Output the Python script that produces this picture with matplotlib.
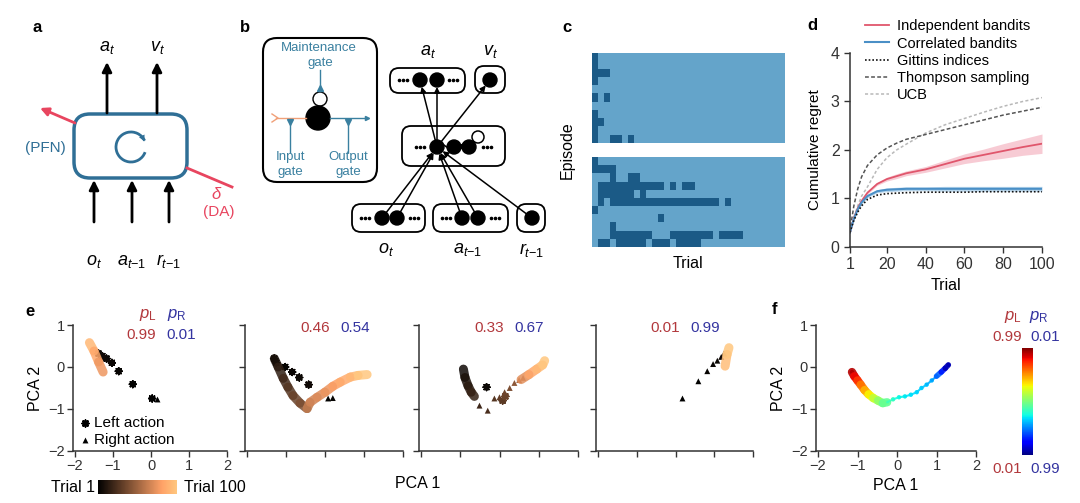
import numpy as np
import matplotlib; matplotlib.use("Agg")
import matplotlib.pyplot as plt
from matplotlib.patches import FancyBboxPatch, FancyArrowPatch, Circle, Arc
from matplotlib.collections import LineCollection
from matplotlib.colors import ListedColormap, Normalize
import matplotlib.colorbar as mcb

plt.rcParams.update({"font.family": "Liberation Sans", "font.size": 11,
    "mathtext.fontset": "custom", "mathtext.rm": "Liberation Sans",
    "mathtext.it": "Liberation Sans:italic", "axes.linewidth": 1.1,
    "axes.edgecolor": "#333333", "xtick.color": "#333333", "ytick.color": "#333333",
    "axes.spines.top": False, "axes.spines.right": False})

# ---- data ----
# panel c: dark cells per episode row as (start, stop) column runs
c_ncol = 32
c_top_runs = [[(0, 1)], [(0, 1)], [(0, 3)], [(0, 1)], [], [(0, 1), (2, 3)], [],
              [(0, 1)], [(0, 2)], [(0, 1)], [(0, 1), (3, 5), (6, 7)]]
c_bot_runs = [[(0, 1)], [(0, 4)], [(3, 4), (6, 8)], [(1, 12), (13, 14), (15, 17)],
              [(1, 7), (8, 9)], [(1, 2), (3, 21), (22, 23)], [(0, 1)], [(11, 12)],
              [(3, 4)], [(3, 10), (13, 17), (17, 20), (21, 25)],
              [(1, 3), (4, 9), (10, 13), (14, 18)]]

# panel d: cumulative regret
d_trial = [1, 2, 3, 5, 7, 10, 15, 20, 25, 30, 40, 50, 60, 70, 80, 90, 100]
d_indep = [0.3, 0.45, 0.6, 0.8, 0.95, 1.12, 1.3, 1.4, 1.46, 1.52, 1.6, 1.71, 1.82, 1.9, 1.98, 2.06, 2.13]
d_indep_err = [0.01, 0.02, 0.02, 0.02, 0.03, 0.03, 0.03, 0.04, 0.05, 0.05, 0.06, 0.08, 0.1, 0.12, 0.15, 0.17, 0.2]
d_corr = [0.3, 0.45, 0.58, 0.78, 0.92, 1.05, 1.15, 1.18, 1.19, 1.2, 1.2, 1.2, 1.2, 1.2, 1.2, 1.2, 1.2]
d_corr_err = [0.01, 0.02, 0.02, 0.02, 0.03, 0.03, 0.03, 0.04, 0.04, 0.04, 0.04, 0.05, 0.05, 0.05, 0.05, 0.05, 0.05]
d_gittins = [0.3, 0.43, 0.55, 0.72, 0.85, 0.98, 1.07, 1.1, 1.11, 1.12, 1.13, 1.13, 1.13, 1.14, 1.14, 1.14, 1.14]
d_thompson = [0.3, 0.6, 0.85, 1.2, 1.45, 1.68, 1.9, 2.04, 2.14, 2.22, 2.32, 2.42, 2.52, 2.62, 2.72, 2.8, 2.88]
d_ucb = [0.3, 0.45, 0.6, 0.85, 1.05, 1.24, 1.6, 1.84, 2.0, 2.12, 2.35, 2.52, 2.65, 2.78, 2.9, 3.0, 3.08]

# panel e: hidden-state trajectories (PCA 1, PCA 2, trial)
e_pL = ["0.99", "0.46", "0.33", "0.01"]
e_pR = ["0.01", "0.54", "0.67", "0.99"]
e_bands = [
    [([-1.62, -1.5, -1.38, -1.26], [0.58, 0.38, 0.12, -0.12], [100, 92, 84, 76])],
    [([-1.3, -1.2, -1.07, -0.95, -0.82, -0.64, -0.46, -0.38, -0.2, 0.0, 0.2, 0.39, 0.65, 0.85, 1.08],
      [0.2, 0.0, -0.27, -0.48, -0.68, -0.86, -0.99, -0.84, -0.72, -0.6, -0.46, -0.36, -0.24, -0.2, -0.18],
      [5, 10, 16, 22, 28, 34, 40, 62, 66, 70, 75, 80, 86, 92, 100])],
    [([-0.92, -0.88, -0.8, -0.72, -0.64], [-0.05, -0.25, -0.45, -0.6, -0.7], [3, 6, 10, 14, 18]),
     ([0.55, 0.75, 0.95, 1.1, 1.15], [-0.3, -0.18, -0.05, 0.05, 0.15], [60, 72, 84, 94, 100])],
    [([1.28, 1.33, 1.38], [0.02, 0.3, 0.46], [90, 95, 100])],
]
e_left = [([0.03, -0.48, -0.85, -1.03, -1.17, -1.28, -1.38], [-0.75, -0.41, -0.1, 0.1, 0.2, 0.26, 0.32], [1, 2, 3, 4, 5, 6, 7]),
          ([-1.3, -1.25, -1.02, -0.84, -0.66, -0.42], [0.2, 0.1, 0.0, -0.12, -0.25, -0.42], [1, 2, 3, 4, 5, 6]),
          ([-0.33, 0.08, 0.15], [-0.48, -0.8, -0.7], [5, 30, 35]),
          ([], [], [])]
e_right = [([0.16], [-0.75], [1]),
           ([0.08, 0.2], [-0.75, -0.74], [2, 3]),
           ([-0.51, -0.3, -0.13, 0.0, 0.13, 0.26, 0.38, 0.5, 0.6],
            [-0.92, -1.04, -0.75, -0.72, -0.6, -0.5, -0.38, -0.31, -0.26],
            [20, 24, 28, 32, 36, 40, 45, 50, 55]),
           ([0.18, 0.59, 0.82, 0.97, 1.08, 1.18, 1.25], [-0.75, -0.34, -0.1, 0.07, 0.15, 0.24, 0.32], [1, 2, 3, 4, 5, 6, 7])]

# panel f: final hidden states coloured by pL
f_x = [-1.14, -1.08, -1.0, -0.92, -0.82, -0.72, -0.6, -0.48, -0.36, -0.25, -0.1, 0.05, 0.2, 0.35, 0.5, 0.62, 0.75, 0.88, 1.0, 1.12, 1.22, 1.3]
f_y = [-0.12, -0.22, -0.32, -0.42, -0.55, -0.65, -0.74, -0.8, -0.86, -0.84, -0.77, -0.72, -0.7, -0.66, -0.6, -0.5, -0.42, -0.32, -0.22, -0.12, -0.03, 0.05]
f_pL = [0.99, 0.95, 0.9, 0.85, 0.78, 0.72, 0.65, 0.58, 0.52, 0.47, 0.42, 0.38, 0.36, 0.35, 0.34, 0.33, 0.32, 0.3, 0.28, 0.22, 0.15, 0.05]

RED_T = "#b2383c"; BLUE_T = "#3434a0"
BLUE_A = "#2f6f96"; RED_A = "#e8455f"; TEAL = "#3a80a0"

W, H = 1080, 503
fig = plt.figure(figsize=(W/100, H/100), dpi=100)
def pax(l, t, r, b):
    a = fig.add_axes([l/W, 1-b/H, (r-l)/W, (b-t)/H])
    a.set_facecolor("none")
    return a
def T(x, y, s, **kw):
    kw.setdefault("ha", "center"); kw.setdefault("va", "center")
    fig.text(x/W, 1-y/H, s, **kw)

cv = pax(0, 0, W, H); cv.set_xlim(0, W); cv.set_ylim(H, 0); cv.axis("off")
def arr(x0, y0, x1, y1, color="k", lw=2.0, ms=14, sa=0, sb=0):
    cv.add_patch(FancyArrowPatch((x0, y0), (x1, y1), arrowstyle="-|>", mutation_scale=ms,
                                 color=color, lw=lw, shrinkA=sa, shrinkB=sb))
def rbox(x0, y0, x1, y1, rr, ec="k", lw=1.3):
    cv.add_patch(FancyBboxPatch((x0, y0), x1-x0, y1-y0, boxstyle=f"round,pad=0,rounding_size={rr}",
                                fc="none", ec=ec, lw=lw))
def dots(x, y):
    cv.plot([x-4, x, x+4], [y, y, y], "o", color="k", ms=1.6)

# panel labels
for s, x, y in [("a", 37, 27), ("b", 245, 27), ("c", 567, 27), ("d", 812, 25), ("e", 30, 311), ("f", 775, 309)]:
    T(x, y, s, fontsize=12, fontweight="bold")

# ---- panel a ----
rbox(74, 114, 187, 178, 16, ec=BLUE_A, lw=2.5)
for x in [107, 157]:
    arr(x, 113, x, 62)
for x in [94, 132, 169]:
    arr(x, 222, x, 180)
arr(75, 123, 40, 108, color=RED_A, lw=2, ms=12)
cv.plot([187, 232], [168, 187], color=RED_A, lw=2)
cv.add_patch(Arc((131, 147), 30, 30, theta1=20, theta2=335, color=BLUE_A, lw=2))
th = np.deg2rad([320, 348])
cv.add_patch(FancyArrowPatch((131+15*np.cos(th[0]), 147+15*np.sin(th[0])),
                             (131+15*np.cos(th[1]), 147+15*np.sin(th[1])),
                             arrowstyle="-|>", mutation_scale=11, color=BLUE_A, lw=0))
T(107, 48, r"$a_t$", fontsize=13); T(157, 48, r"$v_t$", fontsize=13)
T(94, 261, r"$o_t$", fontsize=13); T(132, 261, r"$a_{t{-}1}$", fontsize=13); T(169, 261, r"$r_{t{-}1}$", fontsize=13)
T(45, 148, "(PFN)", fontsize=11, color=BLUE_A)
T(217, 194, r"$\delta$", fontsize=12, color=RED_A)
T(219, 212, "(DA)", fontsize=11, color=RED_A)

# ---- panel b ----
rbox(263, 38, 377, 182, 14, lw=1.5)
T(319, 48, "Maintenance", fontsize=9.5, color=TEAL)
T(320, 63, "gate", fontsize=9.5, color=TEAL)
cv.plot([320, 320], [70, 88], color=TEAL, lw=1)
cv.plot([320], [88], marker="^", color=TEAL, ms=5)
cv.add_patch(Circle((320, 99), 7, fc="none", ec="k", lw=1))
cv.add_patch(Circle((318, 118), 12, color="k"))
cv.plot([276, 306], [118, 118], color="#f0a078", lw=1)
cv.plot([272, 278, 272], [114, 118, 122], color="#f0a078", lw=1)
cv.plot([330, 367], [118, 118], color=TEAL, lw=1)
cv.plot([367], [118], marker=">", color=TEAL, ms=3)
for x, lab in [(290, "Input"), (348, "Output")]:
    cv.plot([x, x], [121, 152], color=TEAL, lw=1)
    cv.plot([x], [122], marker="v", color=TEAL, ms=5)
    T(x, 157, lab, fontsize=9.5, color=TEAL)
    T(x, 172, "gate", fontsize=9.5, color=TEAL)

rbox(390, 68, 465, 93, 9); rbox(475, 66, 505, 93, 9)
rbox(402, 126, 505, 166, 9)
rbox(352, 204, 425, 232, 9); rbox(433, 204, 508, 232, 9); rbox(517, 204, 545, 232, 9)
top_c = [(420, 80), (437, 80), (490, 80)]
mid_c = [(437, 147), (454, 147), (469, 147)]
bot_c = [(382, 218), (397, 218), (462, 218), (478, 218), (532, 218)]
for x, y in top_c + mid_c + bot_c:
    cv.add_patch(Circle((x, y), 7, color="k"))
for x, y in [(403, 80), (453, 80), (420, 147), (487, 147), (365, 218), (414, 218), (446, 218), (495, 218)]:
    dots(x, y)
for x, y in bot_c:
    arr(x, y, 437, 147, lw=1.1, ms=8, sa=5, sb=5)
for x, y in top_c:
    arr(437, 147, x, y, lw=1.1, ms=8, sa=5, sb=5)
cv.add_patch(FancyArrowPatch((440, 141), (466, 141), arrowstyle="-|>", mutation_scale=7,
                             connectionstyle="arc3,rad=0.6", color="k", lw=1.1))
cv.add_patch(Circle((478, 137), 6, fc="none", ec="k", lw=1.1))
T(428, 52, r"$a_t$", fontsize=13); T(490, 52, r"$v_t$", fontsize=13)
T(386, 250, r"$o_t$", fontsize=13); T(468, 250, r"$a_{t{-}1}$", fontsize=13); T(532, 250, r"$r_{t{-}1}$", fontsize=13)

# ---- panel c ----
cmap_c = ListedColormap(["#64a4ca", "#1b5a86"])
for runs, (t, b) in [(c_top_runs, (53, 143)), (c_bot_runs, (157, 247))]:
    mat = np.zeros((len(runs), c_ncol))
    for i, row in enumerate(runs):
        for s0, s1 in row:
            mat[i, s0:s1] = 1
    ac = pax(592, t, 785, b)
    ac.imshow(mat, cmap=cmap_c, vmin=0, vmax=1, aspect="auto", interpolation="nearest")
    ac.axis("off")
T(567, 150, "Episode", fontsize=11.5, rotation=90)
T(688, 263, "Trial", fontsize=11.5)

# ---- panel d ----
ad = pax(850, 53, 1042, 247)
tr = np.array(d_trial)
ad.fill_between(tr, np.array(d_indep)-d_indep_err, np.array(d_indep)+d_indep_err, color="#f3a9b8", alpha=0.6, lw=0)
ad.fill_between(tr, np.array(d_corr)-d_corr_err, np.array(d_corr)+d_corr_err, color="#9cc6e6", alpha=0.7, lw=0)
ad.plot(tr, d_ucb, color="#b8b8b8", lw=1.1, ls=(0, (2, 1.5)), label="UCB")
ad.plot(tr, d_thompson, color="#555555", lw=1.1, ls=(0, (2.5, 1.5)), label="Thompson sampling")
ad.plot(tr, d_indep, color="#e0566c", lw=1.3, label="Independent bandits")
ad.plot(tr, d_corr, color="#4a8fc6", lw=1.5, label="Correlated bandits")
ad.plot(tr, d_gittins, color="#111111", lw=1.2, ls=(0, (1, 1.2)), label="Gittins indices")
hs, ls_ = ad.get_legend_handles_labels()
order = [2, 3, 4, 1, 0]
ad.legend([hs[i] for i in order], [ls_[i] for i in order], loc="upper left",
          bbox_to_anchor=(858/W, 1-12/H), bbox_transform=fig.transFigure, frameon=False,
          fontsize=10.5, handlelength=1.6, handletextpad=0.6, labelspacing=0.22, borderpad=0)
ad.set_xlim(1, 100); ad.set_ylim(0, 4)
ad.set_xticks([1, 20, 40, 60, 80, 100]); ad.set_yticks([0, 1, 2, 3, 4])
ad.tick_params(labelsize=11.5, length=4, width=1)
ad.set_xlabel("Trial", fontsize=11.5, labelpad=4)
ad.set_ylabel("Cumulative regret", fontsize=11, labelpad=6)

# ---- panel e ----
ast = (8, 2, 0)
cmap_e = plt.get_cmap("copper")
norm_e = Normalize(1, 100)
e_pos = [(75, 227), (247, 403), (421, 578), (598, 753)]
for k, (x0, x2) in enumerate(e_pos):
    u = (x2 - x0) / 4
    ae = pax(x0 - 0.05*u, 325, x2, 451)
    ae.set_xlim(-2.05, 2.0); ae.set_ylim(-2, 1)
    ae.set_xticks([-2, -1, 0, 1, 2]); ae.set_yticks([-2, -1, 0, 1])
    ae.tick_params(labelsize=10.5, length=4, width=1, pad=2)
    if k > 0:
        ae.tick_params(labelleft=False, labelbottom=False)
    for bx, by, bt in e_bands[k]:
        pts = np.column_stack([bx, by])
        seg = np.stack([pts[:-1], pts[1:]], axis=1)
        lc = LineCollection(seg, colors=cmap_e(norm_e(np.array(bt[1:]))), lw=6.5, capstyle="round", alpha=0.85)
        ae.add_collection(lc)
    lx, ly, lt = e_left[k]
    if lx:
        ae.scatter(lx, ly, c=cmap_e(norm_e(np.array(lt))), marker=ast, s=22, lw=1.3)
    rx, ry, rt = e_right[k]
    ae.scatter(rx, ry, c=cmap_e(norm_e(np.array(rt))), marker="^", s=18, lw=0)
    if k == 0:
        ae.scatter([-1.74], [-1.34], c="k", marker=ast, s=22, lw=1.3)
        ae.text(-1.5, -1.34, "Left action", fontsize=11, va="center")
        ae.scatter([-1.74], [-1.73], c="k", marker="^", s=18, lw=0)
        ae.text(-1.5, -1.73, "Right action", fontsize=11, va="center")
        ae.set_ylabel("PCA 2", fontsize=11.5, labelpad=4)
    xm = (x0 + x2) / 2
    dy = 335 if k == 0 else 328
    T(xm - 10, dy, e_pL[k], fontsize=11, color=RED_T)
    T(xm + 30, dy, e_pR[k], fontsize=11, color=BLUE_T)
T(148, 315, r"$p_\mathrm{L}$", fontsize=12, color=RED_T)
T(177, 315, r"$p_\mathrm{R}$", fontsize=12, color=BLUE_T)
T(418, 484, "PCA 1", fontsize=11.5)
cb1 = pax(98, 480, 177, 494)
mcb.ColorbarBase(cb1, cmap=cmap_e, orientation="horizontal", ticks=[]).outline.set_visible(False)
T(73, 487, "Trial 1", fontsize=11.5)
T(215, 487, "Trial 100", fontsize=11.5)

# ---- panel f ----
af = pax(818 - 0.05*39.5, 325, 976, 451)
af.set_xlim(-2.05, 2.0); af.set_ylim(-2, 1)
af.set_xticks([-2, -1, 0, 1, 2]); af.set_yticks([-2, -1, 0, 1])
af.tick_params(labelsize=10.5, length=4, width=1, pad=2)
jet = plt.get_cmap("jet")
fp = np.column_stack([f_x, f_y])
fseg = np.stack([fp[:-1], fp[1:]], axis=1)
fw = [6]*9 + [1.5]*9 + [4]*3
af.add_collection(LineCollection(fseg, colors=jet(np.array(f_pL[1:])), lw=fw, capstyle="round", alpha=0.9))
af.scatter(f_x, f_y, c=jet(np.array(f_pL)), s=10, lw=0)
af.set_ylabel("PCA 2", fontsize=11.5, labelpad=4)
af.set_xlabel("PCA 1", fontsize=11.5, labelpad=3)
cb2 = pax(1022, 348, 1033, 455)
mcb.ColorbarBase(cb2, cmap=jet, orientation="vertical", ticks=[]).outline.set_visible(False)
T(1013, 317, r"$p_\mathrm{L}$", fontsize=12, color=RED_T)
T(1039, 317, r"$p_\mathrm{R}$", fontsize=12, color=BLUE_T)
T(1007, 337, "0.99", fontsize=11, color=RED_T); T(1045, 337, "0.01", fontsize=11, color=BLUE_T)
T(1007, 469, "0.01", fontsize=11, color=RED_T); T(1045, 469, "0.99", fontsize=11, color=BLUE_T)

fig.savefig("out.png", dpi=100)
